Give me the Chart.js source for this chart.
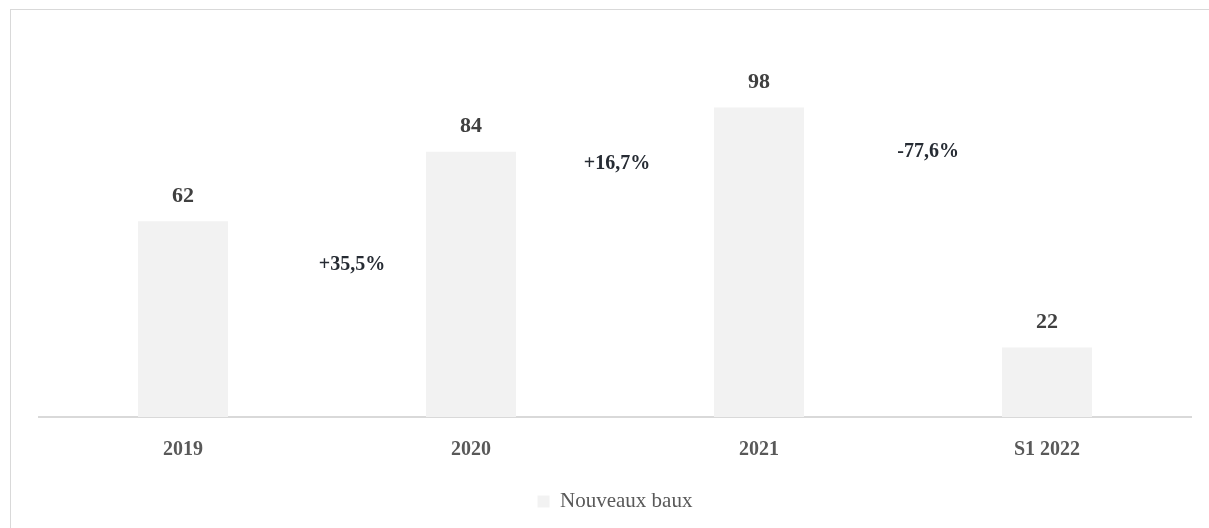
<!DOCTYPE html>
<html>
<head>
<meta charset="utf-8">
<script src="https://cdn.jsdelivr.net/npm/chart.js@4/dist/chart.umd.min.js"></script>
<style>
  html, body { margin: 0; padding: 0; background: #fff; overflow: hidden; }
  #frame { position: absolute; left: 10px; top: 9px; width: 1300px; height: 600px;
           border-left: 1px solid #d9d9d9; border-top: 1px solid #d9d9d9; }
  #wrap { position: absolute; left: 0; top: 0; width: 1209px; height: 528px; }
</style>
</head>
<body>
<div id="frame"></div>
<div id="wrap"><canvas id="c" width="1209" height="528"></canvas></div>
<script>
const categories = ['2019', '2020', '2021', 'S1 2022'];
const seriesName = 'Nouveaux baux';
const values = [62, 84, 98, 22];
const growthLabels = ['+35,5%', '+16,7%', '-77,6%'];
const growthXIndex = [0.587, 1.507, 2.587];
const growthYValue = [48.2, 80.2, 84.0];

const valueLabels = {
  id: 'valueLabels',
  afterDatasetsDraw(chart) {
    const ctx = chart.ctx;
    const meta = chart.getDatasetMeta(0);
    ctx.save();
    ctx.textAlign = 'center';
    ctx.textBaseline = 'middle';
    ctx.font = 'bold 22px "Liberation Serif", serif';
    ctx.fillStyle = '#404040';
    meta.data.forEach((bar, i) => {
      ctx.fillText(String(values[i]), bar.x, bar.y - 25);
    });
    ctx.fillStyle = '#262b33';
    ctx.font = 'bold 20px "Liberation Serif", serif';
    const xs = chart.scales.x, ys = chart.scales.y;
    growthLabels.forEach((t, i) => {
      ctx.fillText(t, xs.getPixelForValue(growthXIndex[i]), ys.getPixelForValue(growthYValue[i]));
    });
    ctx.restore();
  }
};

new Chart(document.getElementById('c'), {
  type: 'bar',
  data: {
    labels: categories,
    datasets: [{
      label: seriesName,
      data: values,
      backgroundColor: '#f2f2f2',
      borderWidth: 0,
      barPercentage: 0.3125,
      categoryPercentage: 1.0
    }]
  },
  options: {
    responsive: false,
    animation: false,
    layout: { padding: { left: 39, right: 18, top: 38, bottom: 6 } },
    scales: {
      x: {
        grid: { display: false, drawTicks: false },
        border: { display: true, color: '#d9d9d9', width: 2 },
        ticks: { color: '#595959', font: { family: '"Liberation Serif", serif', size: 20, weight: 'bold' }, padding: 21 },
        afterFit(scale) { scale.height -= 2; }
      },
      y: { display: false, min: 0, max: 120 }
    },
    plugins: {
      legend: {
        position: 'bottom',
        labels: {
          color: '#595959',
          font: { family: '"Liberation Serif", serif', size: 21 },
          boxWidth: 12, boxHeight: 12, padding: 10
        }
      },
      tooltip: { enabled: false }
    }
  },
  plugins: [valueLabels]
});
</script>
</body>
</html>
